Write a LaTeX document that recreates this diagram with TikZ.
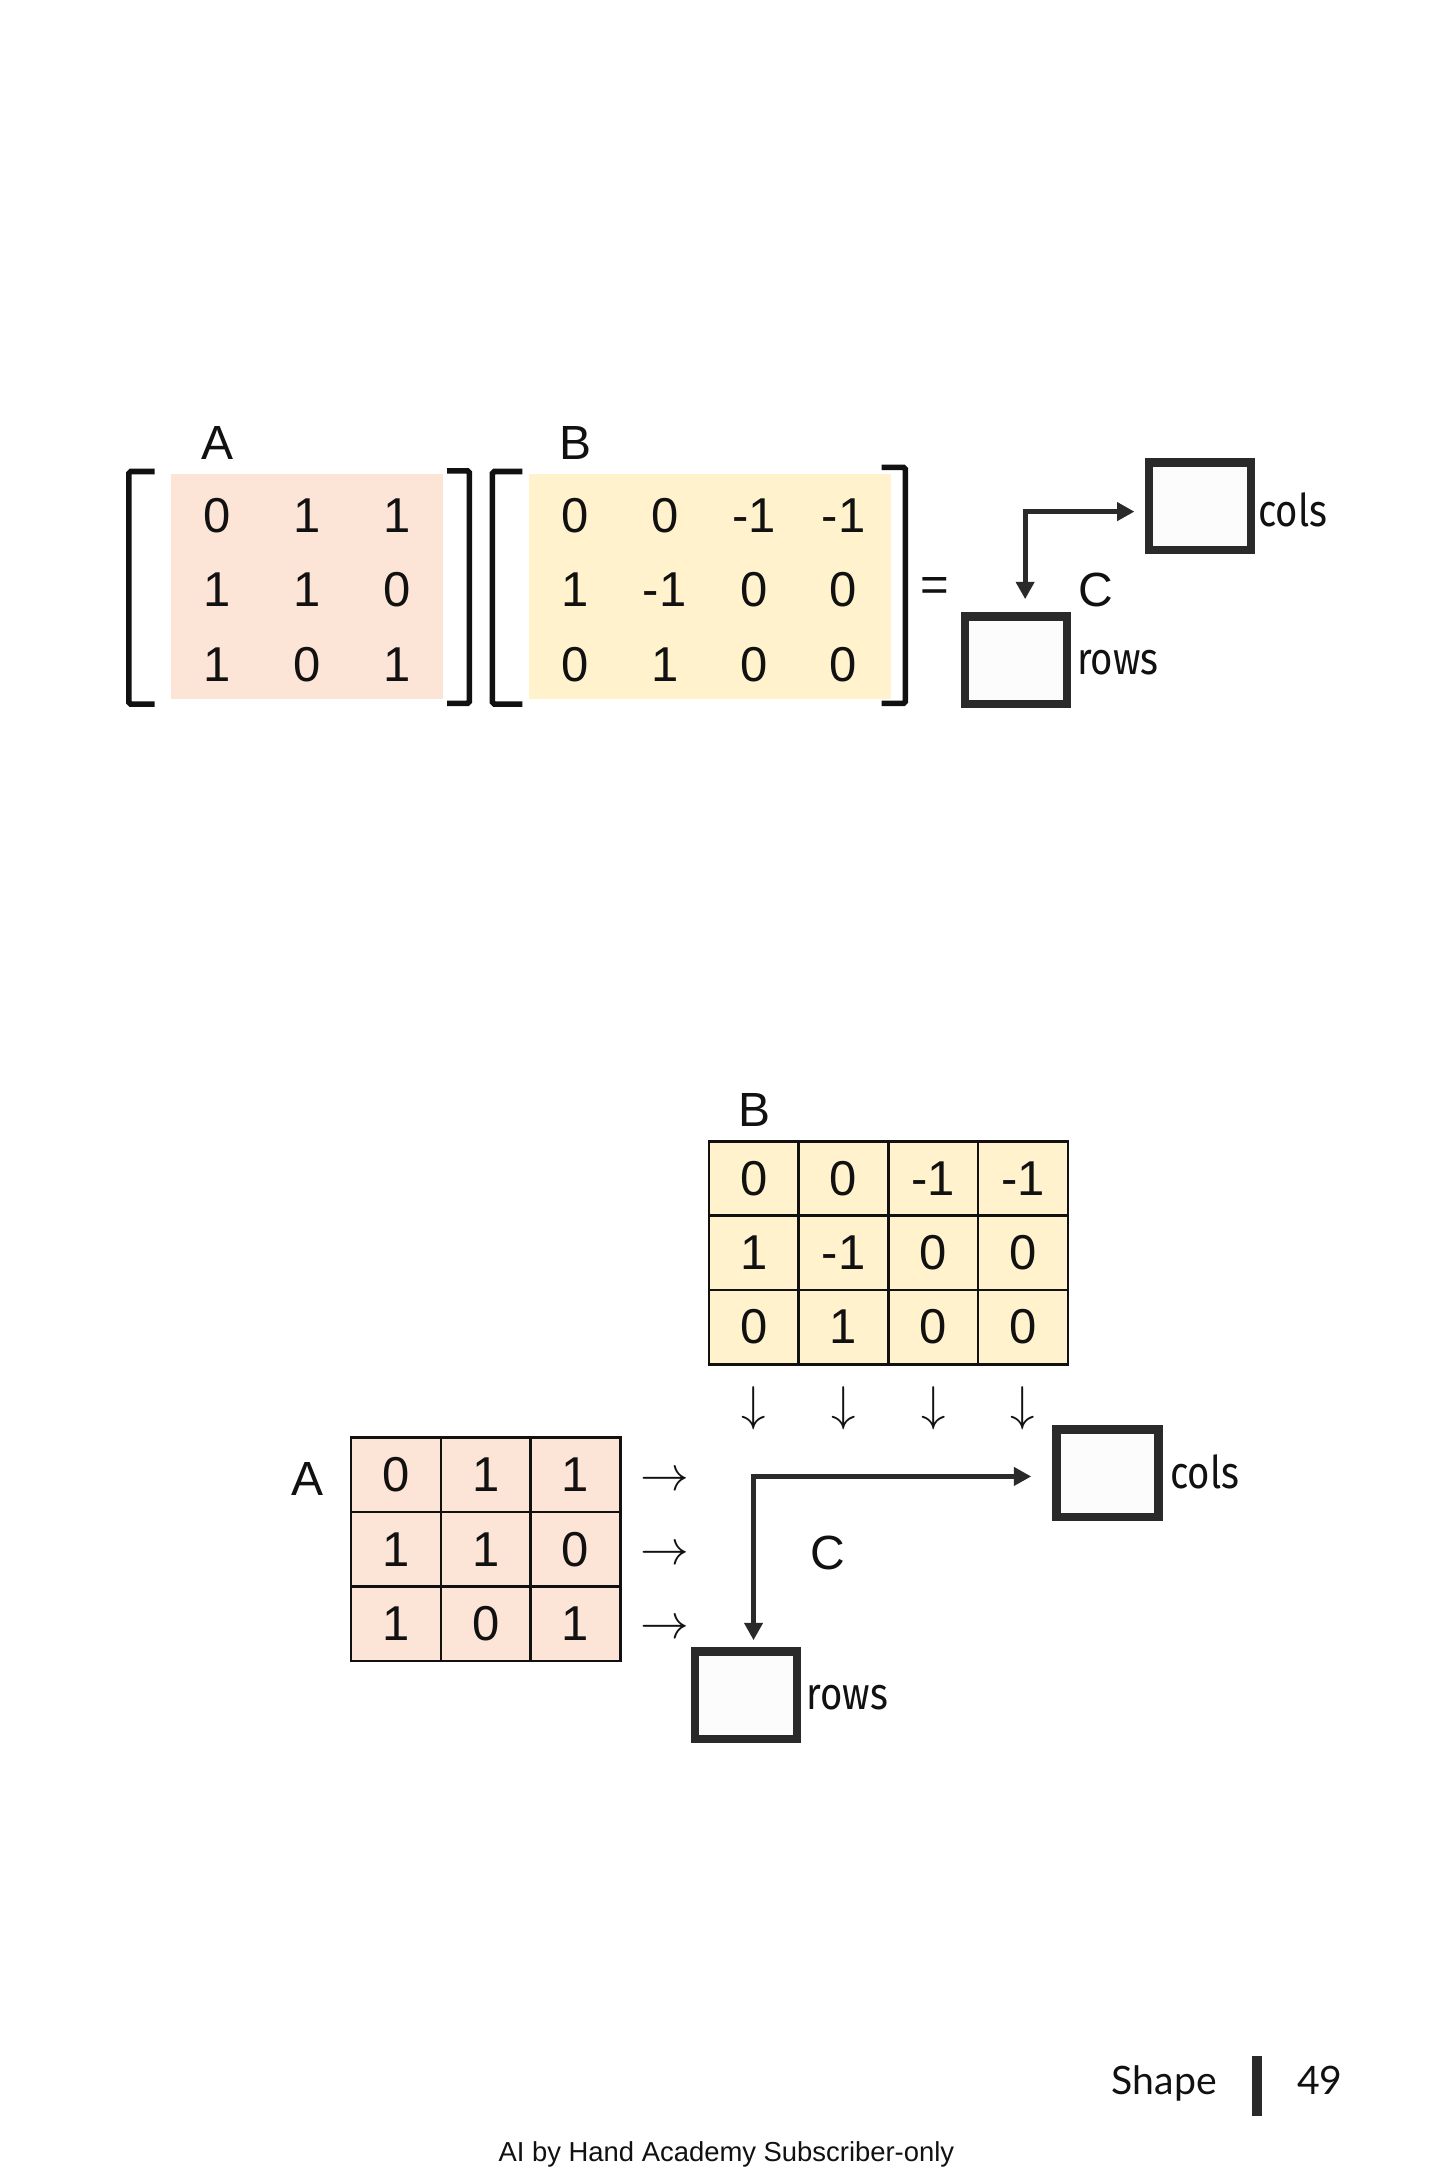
\documentclass[tikz,border=0pt]{standalone}
\usepackage{fontspec}
\setmainfont{Liberation Sans}
\newfontfamily\dimfont{Fira Sans}[FakeStretch=0.85]
\newfontfamily\pagefont{Lato}
\usetikzlibrary{arrows.meta, positioning, calc}
\definecolor{pinkA}{HTML}{FCE4D6}
\definecolor{yellowB}{HTML}{FFF2CC}
\definecolor{ink}{HTML}{111111}
\definecolor{boxgray}{HTML}{2A2A2A}
\tikzset{
  num/.style={font=\fontsize{25}{25}\selectfont, text=ink, inner sep=0pt},
  lbl/.style={font=\fontsize{24.5}{25}\selectfont, text=ink, inner sep=0pt},
  dimlbl/.style={font=\dimfont\fontsize{23}{23}\selectfont, text=ink, inner sep=0pt, anchor=base west},
  cellA/.style={num, draw=ink, line width=1.35pt, fill=pinkA, minimum width=1.6125cm, minimum height=1.3375cm},
  cellB/.style={cellA, fill=yellowB},
  dimbox/.style={draw=boxgray, line width=4.3pt, fill=white!99!black, minimum width=1.83cm, minimum height=1.57cm, inner sep=0pt},
  flow/.style={draw=boxgray, line width=2.5pt, line join=miter, {Triangle[length=0.31cm,width=0.32cm]}-{Triangle[length=0.31cm,width=0.32cm]}},
  brk/.style={draw=ink, line width=2.85pt, rounded corners=1pt},
  thinarrow/.style={font=\fontsize{23.5}{23.5}\selectfont, text=ink, inner sep=0pt}
}
\newcommand{\matbrk}[4]{\draw[brk] (#1,#3) -- (#2,#3) -- (#2,#4) -- (#1,#4);}

\begin{document}
\begin{tikzpicture}[x=0.025cm, y=-0.025cm]
  \fill[white] (0,0) rectangle (1045,1568);
  \useasboundingbox (0,0) rectangle (1045,1568);

  % 1. Producto con corchetes
  \node[fill=pinkA, inner sep=0pt, minimum width=4.8825cm, minimum height=4.05cm] (bgA) at (220.35,421) {};
  \node[fill=yellowB, inner sep=0pt, minimum width=6.4875cm, minimum height=4.05cm] (bgB) at (509.75,421) {};
  \node[lbl] (labA) at (156,318) {A};
  \node[lbl] (labB) at (413,318) {B};

  \matbrk{111}{92.5}{338.5}{505.5}
  \matbrk{321}{337}{338}{505}
  \matbrk{375}{353.5}{338.5}{505.5}
  \matbrk{633}{650}{335.5}{505}

  \foreach \r/\c/\v in {1/1/0, 1/2/1, 1/3/1, 2/1/1, 2/2/1, 2/3/0, 3/1/1, 3/2/0, 3/3/1} {
    \node[num] (a\r\c) at ({156+64.4*(\c-1)}, {370+53.5*(\r-1)}) {\v};
  }
  \foreach \r/\c/\v in {1/1/0, 1/2/0, 1/3/-1, 1/4/-1, 2/1/1, 2/2/-1, 2/3/0, 2/4/0, 3/1/0, 3/2/1, 3/3/0, 3/4/0} {
    \node[num] (b\r\c) at ({413+64.2*(\c-1)}, {370+53.5*(\r-1)}) {\v};
  }
  \node[num] (eq) at (671,423) {=};

  % C arriba
  \node[dimbox] (colsT) at (861.5,363.5) {};
  \node[dimbox] (rowsT) at (729.5,474) {};
  \node[lbl] (labCT) at (786.5,423.5) {C};
  \node[dimlbl] (colsTxtT) at (903,378) {cols};
  \node[dimlbl] (rowsTxtT) at (773,484.5) {rows};
  \coordinate (bendT) at (736,367.3);
  \draw[flow, shorten <=0.235cm, shorten >=0.185cm] (bendT |- rowsT.north) -- (bendT) -- (bendT -| colsT.west);

  % 2. Tablas
  \node[lbl] (gridLabB) at (541.5,797) {B};
  \node[lbl] (gridLabA) at (221,1062) {A};
  \foreach \r/\c/\v in {1/1/0, 1/2/0, 1/3/-1, 1/4/-1, 2/1/1, 2/2/-1, 2/3/0, 2/4/0, 3/1/0, 3/2/1, 3/3/0, 3/4/0} {
    \node[cellB] (gb\r\c) at ({541.2+64.4*(\c-1)}, {846.2+53.3*(\r-1)}) {\v};
  }
  \foreach \r/\c/\v in {1/1/0, 1/2/1, 1/3/1, 2/1/1, 2/2/1, 2/3/0, 3/1/1, 3/2/0, 3/3/1} {
    \node[cellA] (ga\r\c) at ({284.25+64.5*(\c-1)}, {1058.75+53.5*(\r-1)}) {\v};
  }
  \foreach \c in {1,...,4} {
    \node[thinarrow] (dn\c) at ({541.2+64.4*(\c-1)}, 1011.3) {$\downarrow$};
  }
  \foreach \r in {1,2,3} {
    \node[thinarrow] (rt\r) at (477, {1063.4+53.3*(\r-1)}) {$\rightarrow$};
  }

  % C abajo
  \node[dimbox] (colsB) at (795,1057.8) {};
  \node[dimbox] (rowsB) at (535.5,1217) {};
  \node[lbl] (labCB) at (594,1115) {C};
  \node[dimlbl] (colsTxtB) at (840,1069) {cols};
  \node[dimlbl] (rowsTxtB) at (579,1227) {rows};
  \coordinate (bendB) at (541,1060);
  \draw[flow, shorten <=0.125cm, shorten >=0.375cm] (bendB |- rowsB.north) -- (bendB) -- (bendB -| colsB.west);

  % 3. Pie de pagina
  \node[font=\pagefont\fontsize{20}{20}\selectfont, text=ink, anchor=base west, inner sep=0pt] (pgName) at (798,1503.6) {Shape};
  \fill[boxgray] (898.6,1476) rectangle (905.8,1519);
  \node[font=\pagefont\fontsize{20}{20}\selectfont, text=ink, anchor=base west, inner sep=0pt] (pgNum) at (931,1503.6) {49};
  \node[font=\fontsize{14}{14}\selectfont, text=ink, anchor=base, inner sep=0pt] (credit) at (521.5,1551.6) {AI by Hand Academy Subscriber-only};
\end{tikzpicture}
\end{document}
